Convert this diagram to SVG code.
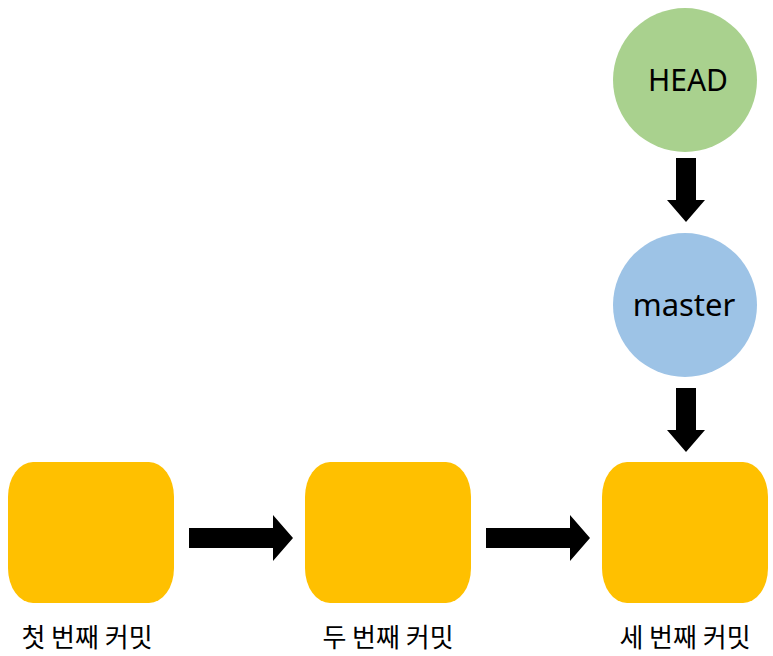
<svg xmlns="http://www.w3.org/2000/svg" width="773" height="656" viewBox="0 0 773 656">
<style>
.commit{fill:#FFC000}
.lbl{font-family:"Noto Sans CJK KR","Noto Sans",sans-serif;font-size:26px;fill:#000;text-anchor:middle}
.ctext{font-family:"Noto Sans","Noto Sans CJK KR",sans-serif;fill:#000;text-anchor:middle}
.arrow{fill:#000}
</style>
<rect width="773" height="656" fill="#fff"/>
<g id="connectors">
<polygon class="arrow" points="189,528 273,528 273,515 293,538 273,561 273,548 189,548"/>
<polygon class="arrow" points="486,528 570,528 570,515 590,538 570,561 570,548 486,548"/>
<polygon class="arrow" points="676,158 696,158 696,200 705,200 686,222 667,200 676,200"/>
<polygon class="arrow" points="676,388 696,388 696,430 705,430 686,452 667,430 676,430"/>
</g>
<g id="head">
<circle cx="685" cy="80" r="72" fill="#A9D18E"/>
<text class="ctext" x="688" y="91" font-size="30">HEAD</text>
</g>
<g id="master">
<circle cx="685" cy="305" r="72" fill="#9DC3E6"/>
<text class="ctext" x="684" y="316" font-size="31">master</text>
</g>
<g id="commit1">
<path class="commit" d="M33,462 H149 A25,35 0 0 1 174,497 V568 A25,35 0 0 1 149,603 H33 A25,35 0 0 1 8,568 V497 A25,35 0 0 1 33,462 Z"/>
<text class="lbl" x="87" y="647">첫 번째 커밋</text>
</g>
<g id="commit2">
<path class="commit" d="M330,462 H446 A25,35 0 0 1 471,497 V568 A25,35 0 0 1 446,603 H330 A25,35 0 0 1 305,568 V497 A25,35 0 0 1 330,462 Z"/>
<text class="lbl" x="388" y="647">두 번째 커밋</text>
</g>
<g id="commit3">
<path class="commit" d="M627,462 H743 A25,35 0 0 1 768,497 V568 A25,35 0 0 1 743,603 H627 A25,35 0 0 1 602,568 V497 A25,35 0 0 1 627,462 Z"/>
<text class="lbl" x="685" y="647">세 번째 커밋</text>
</g>
</svg>
